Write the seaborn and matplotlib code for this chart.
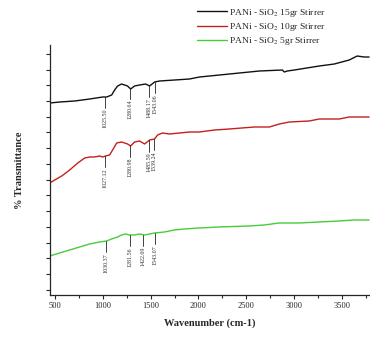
import numpy as np
import pandas as pd
import matplotlib
matplotlib.use('Agg')
import matplotlib.pyplot as plt
import seaborn as sns

# data (satuan y sembarang, 0-100)
wn_15 = [448, 552, 708, 865, 1000, 1042, 1094, 1125, 1156, 1198, 1260, 1292, 1333, 1385,
         1448, 1490, 1542, 1594, 1750, 1906, 2010, 2219, 2531, 2635, 2875, 2896, 2927,
         3000, 3260, 3417, 3573, 3656, 3729, 3781]
t_15 = [76.8, 77.2, 77.6, 78.4, 79.2, 79.2, 80.0, 82.0, 83.6, 84.4, 83.6, 82.4, 83.6, 84.0,
        84.4, 83.6, 85.2, 85.6, 86.0, 86.4, 87.2, 88.0, 89.2, 89.6, 90.0, 89.2, 89.6,
        90.0, 91.6, 92.4, 94.0, 95.6, 95.2, 95.2]

wn_10 = [448, 500, 573, 656, 740, 813, 865, 917, 969, 1000, 1031, 1073, 1104, 1146, 1198,
         1260, 1292, 1333, 1385, 1438, 1490, 1542, 1573, 1625, 1698, 1802, 1906, 2010,
         2167, 2323, 2583, 2740, 2844, 2948, 3156, 3260, 3469, 3573, 3677, 3781]
t_10 = [44.8, 46.0, 47.6, 50.0, 52.8, 54.8, 55.2, 55.2, 55.6, 55.2, 55.6, 56.0, 58.0, 60.8,
        61.2, 60.4, 59.6, 61.2, 61.6, 60.4, 62.0, 62.4, 64.0, 64.8, 64.4, 64.8, 65.2, 65.2,
        66.0, 66.4, 67.2, 67.2, 68.4, 69.2, 69.6, 70.4, 70.4, 71.2, 71.2, 71.2]

wn_5 = [448, 552, 656, 760, 865, 969, 1042, 1094, 1156, 1198, 1240, 1281, 1333, 1385, 1438,
        1490, 1542, 1646, 1750, 1854, 2010, 2219, 2531, 2688, 2844, 3052, 3260, 3469,
        3625, 3781]
t_5 = [15.6, 16.8, 18.0, 19.2, 20.4, 21.2, 21.6, 22.4, 23.2, 24.0, 24.4, 24.0, 24.0, 24.4,
       24.0, 24.4, 24.8, 25.2, 26.0, 26.4, 26.8, 27.2, 27.6, 28.0, 28.8, 28.8, 29.2, 29.6,
       30.0, 30.0]

label_15 = 'PANi - SiO$_2$ 15gr Stirrer'
label_10 = 'PANi - SiO$_2$ 10gr Stirrer'
label_5 = 'PANi - SiO$_2$ 5gr Stirrer'

puncak_15 = [1025.50, 1280.64, 1488.17, 1543.06]
puncak_10 = [1027.12, 1280.98, 1485.59, 1539.24]
puncak_5 = [1030.37, 1281.56, 1422.69, 1543.07]

warna = {label_15: '#111111', label_10: '#c4201c', label_5: '#46cc3c'}

df = pd.concat([
    pd.DataFrame({'wn': wn_15, 't': t_15, 'sampel': label_15}),
    pd.DataFrame({'wn': wn_10, 't': t_10, 'sampel': label_10}),
    pd.DataFrame({'wn': wn_5, 't': t_5, 'sampel': label_5}),
])

sns.set_style('ticks')
plt.rcParams['font.family'] = ['Liberation Serif', 'DejaVu Serif']
plt.rcParams['mathtext.fontset'] = 'stix'

fig = plt.figure(figsize=(3.70, 3.41), dpi=100)
ax = fig.add_axes([0.135, 0.135, 0.865, 0.733])

sns.lineplot(data=df, x='wn', y='t', hue='sampel', palette=warna,
             linewidth=1.0, sort=False, estimator=None, ax=ax, legend=False)

# anotasi puncak
for wn, t, puncak in [(wn_15, t_15, puncak_15), (wn_10, t_10, puncak_10), (wn_5, t_5, puncak_5)]:
    for p in puncak:
        y0 = np.interp(p, wn, t)
        y1 = y0 - 4.5
        ax.plot([p, p], [y0, y1], color='#222222', lw=0.6)
        ax.text(p, y1 - 0.3, f'{p:.2f}', rotation=90, ha='center', va='top',
                fontsize=4.3, color='#333333')

ax.set_xlim(450, 3790)
ax.set_ylim(0, 100)
ax.set_xticks(np.arange(500, 3501, 500))
ax.set_xticks(np.arange(750, 3800, 500), minor=True)
ax.set_yticks(np.arange(2, 100, 6.3))
ax.set_yticklabels([])
ax.tick_params(axis='x', labelsize=6, length=3, width=0.8, pad=2)
ax.tick_params(axis='x', which='minor', length=2, width=0.8)
ax.tick_params(axis='y', length=3, width=0.8)
ax.set_xlabel('Wavenumber (cm-1)', fontsize=7.5, fontweight='bold', labelpad=6)
ax.set_ylabel('% Transmittance', fontsize=7.5, fontweight='bold', labelpad=12)
sns.despine(ax=ax)
for s in ['left', 'bottom']:
    ax.spines[s].set_linewidth(0.9)

handles = [plt.Line2D([], [], color=warna[k], lw=1.0) for k in [label_15, label_10, label_5]]
fig.legend(handles, [label_15, label_10, label_5], loc='upper left',
           bbox_to_anchor=(0.515, 1.0), frameon=False, fontsize=6.8,
           handlelength=3.2, handletextpad=0.2, labelspacing=0.25, borderaxespad=0.3)

fig.savefig('out.png', dpi=100)
